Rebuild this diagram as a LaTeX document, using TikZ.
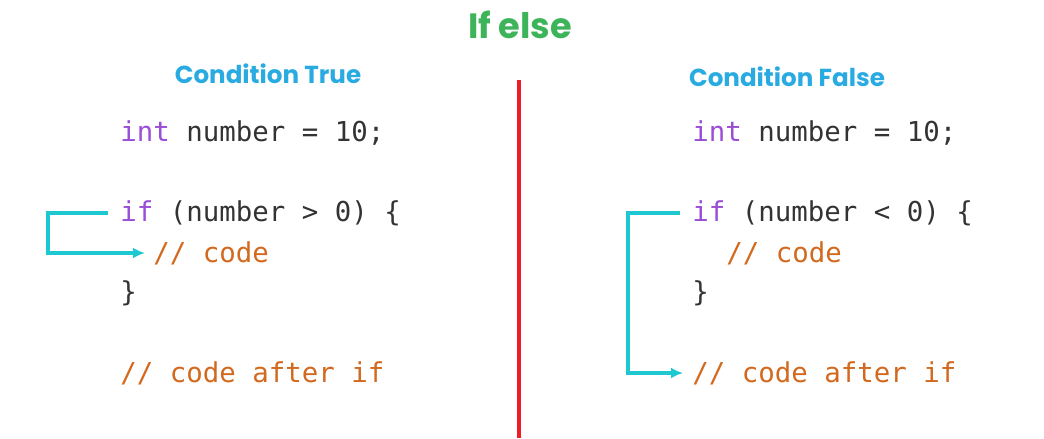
\documentclass[tikz,border=0pt]{standalone}
\usepackage{fontspec}
\setmainfont{Poppins}
\setmonofont{DejaVu Sans Mono}
\usetikzlibrary{arrows.meta}
\definecolor{titlegreen}{HTML}{3DB35A}
\definecolor{headblue}{HTML}{29ABE2}
\definecolor{kwpurple}{HTML}{9B4DD6}
\definecolor{codegray}{HTML}{333333}
\definecolor{cmtorange}{HTML}{D2691E}
\definecolor{flowcyan}{HTML}{1EC8D0}
\definecolor{divred}{HTML}{EE1C25}
\newcommand{\kw}[1]{\textcolor{kwpurple}{#1}}
\newcommand{\cmt}[1]{\textcolor{cmtorange}{#1}}

\begin{document}
\begin{tikzpicture}[x=0.02cm, y=-0.02cm,
	codeline/.style={
	anchor=west,
	inner sep=0pt,
	text=codegray,
	font=\ttfamily\fontsize{15.6}{18}\selectfont},
	heading/.style={
	text=headblue,
	font=\bfseries\fontsize{14}{16}\selectfont},
	flow/.style={
	draw=flowcyan,
	line width=2.2pt,
	-{Latex[length=2.4mm, width=2.2mm]}
	}]

	\useasboundingbox (0,0) rectangle (1044,439);

	% Title
	\node [text=titlegreen, font=\bfseries\fontsize{20}{24}\selectfont] at (520,25) (title) {If else};

	% Divider
	\draw [divred, line width=2.4pt] (519,80) -- (519,438);

	% Condition True
	\node [heading] at (268,74) (headL) {Condition True};
	\node [codeline] at (120,133) (intL)   {\kw{int} number = 10;};
	\node [codeline] at (120,213) (ifL)    {\kw{if} (number > 0) \{};
	\node [codeline] at (153,253) (codeL)  {\cmt{// code}};
	\node [codeline] at (120,293) (closeL) {\}};
	\node [codeline] at (120,373) (afterL) {\cmt{// code after if}};

	% Condition False
	\node [heading] at (787,77) (headR) {Condition False};
	\node [codeline] at (692,133) (intR)   {\kw{int} number = 10;};
	\node [codeline] at (692,213) (ifR)    {\kw{if} (number < 0) \{};
	\node [codeline] at (726,253) (codeR)  {\cmt{// code}};
	\node [codeline] at (692,293) (closeR) {\}};
	\node [codeline] at (692,373) (afterR) {\cmt{// code after if}};

	% Flow
	\draw [flow, shorten <=0.24cm, shorten >=0.16cm] (ifL.west) -- ++(-72,0) |- (codeL.west);
	\draw [flow, shorten <=0.24cm, shorten >=0.18cm] (ifR.west) -- ++(-64,0) |- (afterR.west);

\end{tikzpicture}
\end{document}
